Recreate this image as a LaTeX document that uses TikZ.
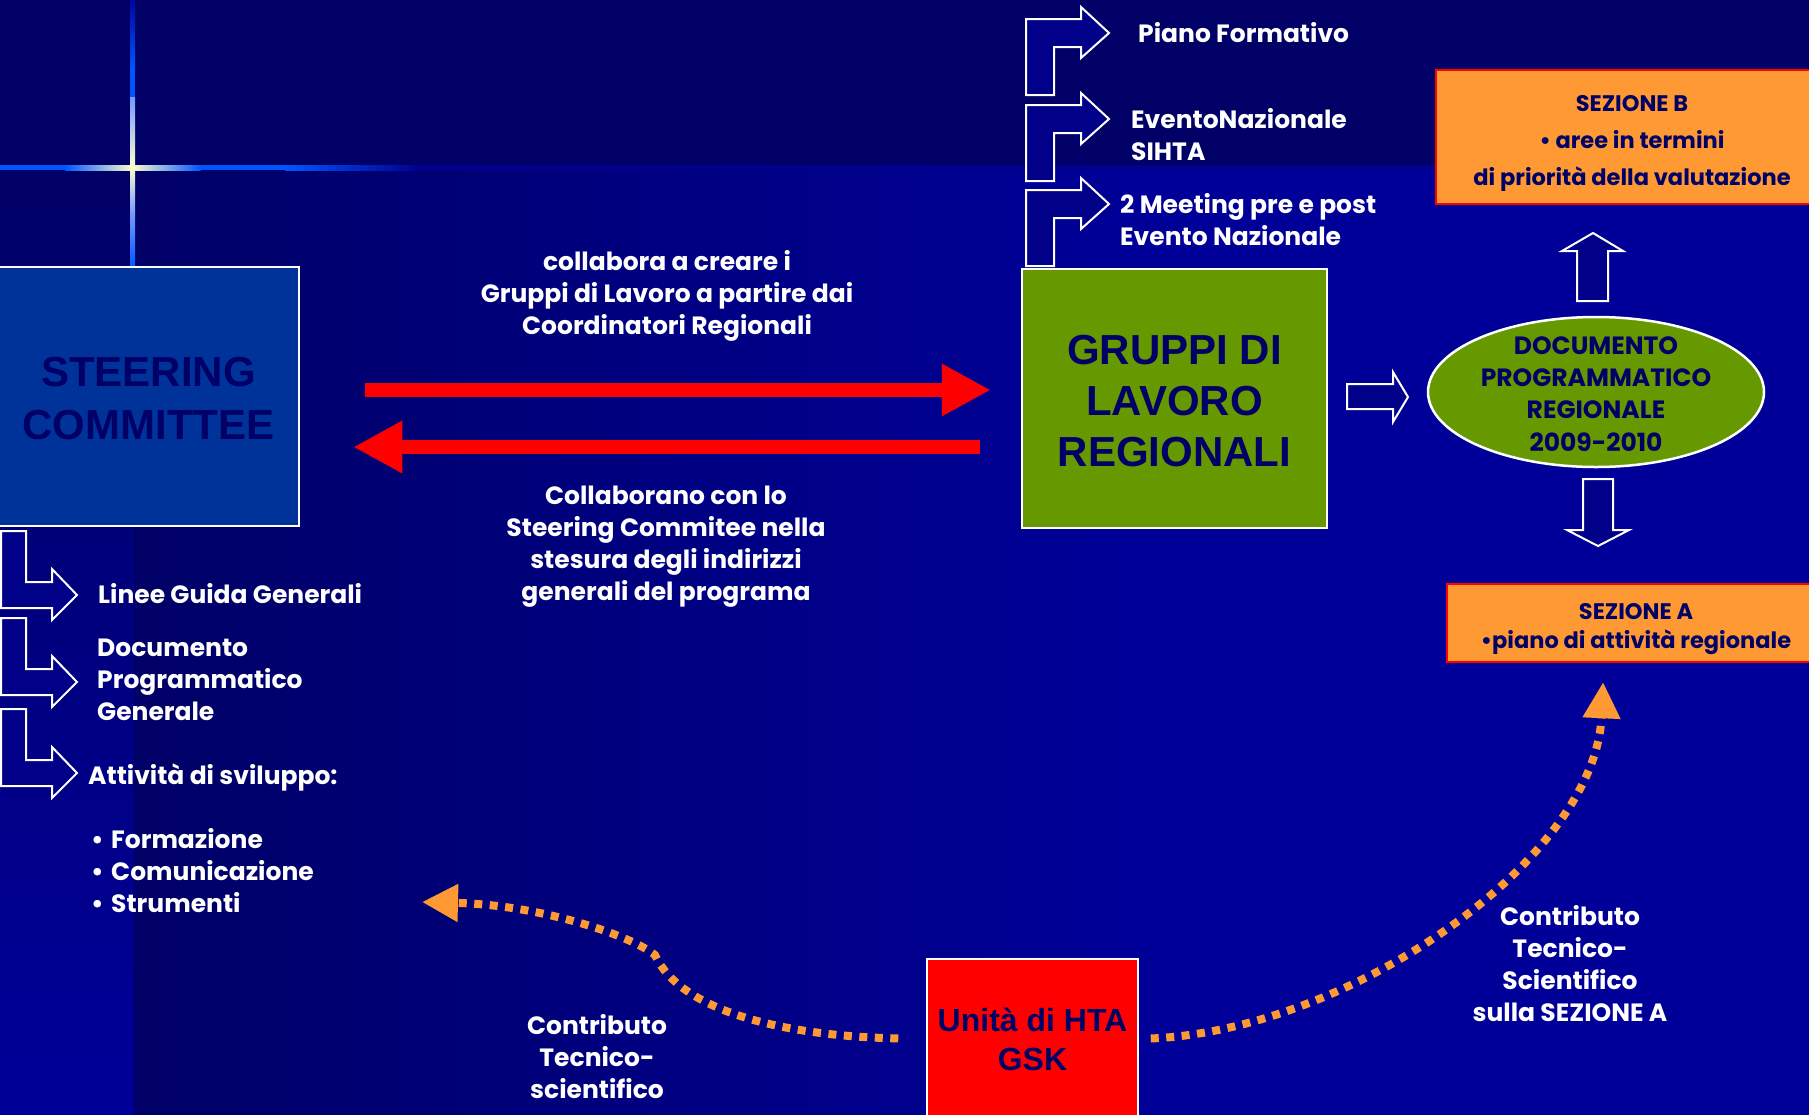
\documentclass[tikz,border=0pt]{standalone}
\usepackage{fontspec}
\setmainfont{Poppins}
\newfontfamily\gothic{Poppins}
\newfontfamily\arialb{Liberation Sans}
\usetikzlibrary{arrows.meta,shapes.geometric}
\definecolor{navytop}{HTML}{000066}
\definecolor{navylow}{HTML}{000066}
\definecolor{navyhigh}{HTML}{000099}
\definecolor{seamblue}{HTML}{00008C}
\definecolor{glowblue}{HTML}{0055FF}
\definecolor{glowpale}{HTML}{7799FF}
\definecolor{glowcream}{HTML}{FFFFCC}
\definecolor{steerblue}{HTML}{003399}
\definecolor{leaf}{HTML}{669900}
\definecolor{tangerine}{HTML}{FF9933}
\definecolor{inkblue}{HTML}{000066}
\definecolor{blockfill}{HTML}{000088}
\newcommand{\gtxt}{\gothic\bfseries\fontsize{25}{32}\selectfont}
\newcommand{\stk}[2]{\begin{tabular}[t]{@{}#1@{}}#2\end{tabular}}
\newcommand{\topstrut}[1]{\rule{0pt}{#1}}
\begin{document}
\begin{tikzpicture}[x=1pt,y=-1pt,
  lbl/.style={text=white,font=\gtxt,inner sep=0pt},
  hollow/.style={draw=white,line width=2pt,fill=blockfill,line join=miter},
  bigbox/.style={draw=white,line width=2.5pt,inner sep=0pt,align=center,text=inkblue},
  sezbox/.style={draw=red,line width=2.5pt,fill=tangerine,inner sep=0pt,align=center,text=inkblue},
  redarrow/.style={draw=red,line width=14pt,-{Triangle[length=49pt,width=49pt]}},
  dotarrow/.style={draw=tangerine,line width=8pt,dash pattern=on 8pt off 7.5pt,-{Triangle[length=36pt,width=36pt]}},
]
\useasboundingbox (0,0) rectangle (1809,1114);
% ---------- background ----------
\fill[navytop] (-5,-5) rectangle (1815,168);
\shade[left color=navylow,right color=navyhigh] (133,167) rectangle (1151,1122);
\fill[navyhigh] (1150,167) rectangle (1815,1122);
\shade[top color=navylow,bottom color=navyhigh] (-5,167) rectangle (133.5,1122);
% glow cross
\fill[seamblue] (0,165) rectangle (1815,170);
\fill[glowblue] (-5,165) rectangle (65.5,170);
\shade[left color=glowblue,right color=glowcream] (65,165) rectangle (132.5,170);
\shade[left color=glowcream,right color=glowblue] (132,165) rectangle (200.5,170);
\fill[glowblue] (200,165) rectangle (285.5,170);
\shade[left color=glowblue,right color=seamblue] (285,165) rectangle (420,170);
\shade[top color=navyhigh,bottom color=glowblue] (130,-5) rectangle (135,70.5);
\fill[glowblue] (130,70) rectangle (135,97.5);
\shade[top color=glowpale,bottom color=glowcream] (130,97) rectangle (135,167.5);
\shade[top color=glowcream,bottom color=glowpale] (130,167) rectangle (135,213.5);
\shade[top color=glowpale,bottom color=glowblue] (130,213) rectangle (135,268);
% ---------- main boxes ----------
\node[bigbox,fill=steerblue,minimum width=301pt,minimum height=259pt,
      font=\arialb\bfseries\fontsize{42}{53}\selectfont] (steer) at (148.5,396.5) {\topstrut{34pt}STEERING\\COMMITTEE};
\node[bigbox,fill=leaf,minimum width=305pt,minimum height=259pt,
      font=\arialb\bfseries\fontsize{42}{51}\selectfont] (gruppi) at (1174.5,398.5) {\topstrut{35pt}GRUPPI DI\\LAVORO\\REGIONALI};
\node[ellipse,draw=white,line width=2.5pt,fill=leaf,minimum width=336pt,minimum height=150pt,
      inner xsep=0pt,inner ysep=-14pt,align=center,text=inkblue,font=\gothic\bfseries\fontsize{25}{32.3}\selectfont] (docreg) at (1596,392)
      {\topstrut{21.5pt}DOCUMENTO\\PROGRAMMATICO\\REGIONALE\\2009-2010};
\node[sezbox,minimum width=392pt,minimum height=134pt,
      font=\gothic\bfseries\fontsize{22.5}{37}\selectfont] (sezB) at (1632,137)
      {\topstrut{28pt}SEZIONE B\\• aree in termini\\di priorità della valutazione};
\node[sezbox,minimum width=378pt,minimum height=78pt,
      font=\gothic\bfseries\fontsize{22.5}{29}\selectfont] (sezA) at (1636,623)
      {\topstrut{29pt}SEZIONE A\\•piano di attività regionale};
\node[draw=white,line width=1.5pt,fill=red,minimum width=211pt,minimum height=160pt,inner sep=0pt,
      align=center,text=inkblue,font=\arialb\bfseries\fontsize{32}{39}\selectfont] (gsk) at (1032.5,1039)
      {Unità di HTA\\GSK};
% ---------- hollow block arrows ----------
\foreach \dy in {0,86,171}
  \draw[hollow,shift={(0,\dy)}] (1026,95) -- (1026,19) -- (1081,19) -- (1081,7) -- (1109,33)
        -- (1081,58) -- (1081,47) -- (1054,47) -- (1054,95) -- cycle;
\foreach \dy in {0,87,178}
  \draw[hollow,shift={(0,\dy)}] (1,531) -- (26,531) -- (26,582) -- (52,582) -- (52,569) -- (77,595)
        -- (52,620) -- (52,608) -- (1,608) -- cycle;
\draw[hollow] (1347,384) -- (1393,384) -- (1393,372) -- (1408,397) -- (1393,422) -- (1393,409) -- (1347,409) -- cycle;
\draw[hollow] (1577,301) -- (1577,251) -- (1562,251) -- (1593,233) -- (1623,251) -- (1608,251) -- (1608,301) -- cycle;
\draw[hollow] (1583,479) -- (1613,479) -- (1613,530) -- (1629,530) -- (1598,546) -- (1567,530) -- (1583,530) -- cycle;
% ---------- labels ----------
\node[lbl,anchor=base west] (piano) at (1138,42) {Piano Formativo};
\node[lbl,anchor=base west] (evento) at (1131,128) {\stk{l}{EventoNazionale\\SIHTA}};
\node[lbl,anchor=base west] (meeting) at (1120,213) {\stk{l}{2 Meeting pre e post\\Evento Nazionale}};
\node[lbl,anchor=base west] (linee) at (98,603) {Linee Guida Generali};
\node[lbl,anchor=base west] (docgen) at (97,656) {\stk{l}{Documento\\Programmatico\\Generale}};
\node[lbl,anchor=base west] (attiv) at (88,784) {Attività di sviluppo:};
\node[lbl,anchor=base west,font=\gothic\bfseries\fontsize{25}{32.3}\selectfont] (bullets) at (91,848)
      {\stk{l}{\makebox[20pt][l]{•}Formazione\\\makebox[20pt][l]{•}Comunicazione\\\makebox[20pt][l]{•}Strumenti}};
\node[lbl,anchor=base] (collabA) at (667,270) {\stk{c}{collabora a creare i\\Gruppi di Lavoro a partire dai\\Coordinatori Regionali}};
\node[lbl,anchor=base] (collabB) at (666,504) {\stk{c}{Collaborano con lo\\Steering Commitee nella\\stesura degli indirizzi\\generali del programa}};
\node[lbl,anchor=base] (contribL) at (597,1034) {\stk{c}{Contributo\\Tecnico-\\scientifico}};
\node[lbl,anchor=base] (contribR) at (1570,925) {\stk{c}{Contributo\\Tecnico-\\Scientifico\\sulla SEZIONE A}};
% ---------- connectors ----------
\coordinate (ya) at (0,390);
\coordinate (yb) at (0,447);
\coordinate (listtip) at (422,902);
\draw[redarrow,shorten <=65pt,shorten >=30pt] (steer.east |- ya) -- (gruppi.west |- ya);
\draw[redarrow,shorten <=41pt,shorten >=53pt] (gruppi.west |- yb) -- (steer.east |- yb);
\draw[dotarrow,shorten <=28pt] (gsk.west) .. controls (780,1036) and (680,1010) .. (655,955)
      .. controls (630,935) and (540,905) .. (listtip);
\draw[dotarrow,shorten <=12pt,shorten >=19pt] (gsk.east) .. controls (1350,1030) and (1595,860) .. ([xshift=-32pt]sezA.south);
\end{tikzpicture}
\end{document}
